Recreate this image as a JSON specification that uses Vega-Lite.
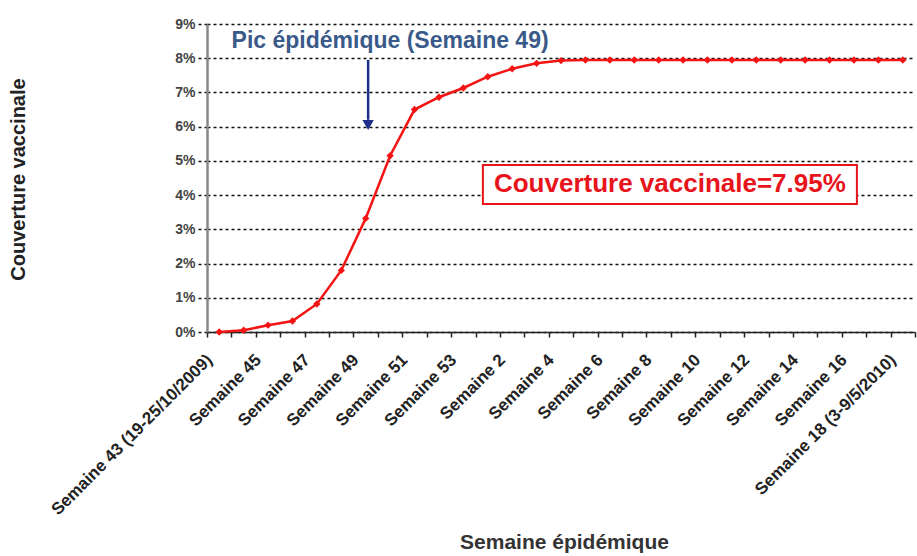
{
  "$schema": "https://vega.github.io/schema/vega-lite/v6.json",
  "width": 708,
  "height": 308,
  "autosize": "none",
  "padding": {"left": 207, "top": 24, "right": 2, "bottom": 224},
  "background": "white",
  "config": {"view": {"stroke": null}, "font": "Liberation Sans"},
  "datasets": {
    "coverage": [
      {"semaine": "Semaine 43 (19-25/10/2009)", "couverture": 0.0},
      {"semaine": "Semaine 44", "couverture": 0.0005},
      {"semaine": "Semaine 45", "couverture": 0.002},
      {"semaine": "Semaine 46", "couverture": 0.0032},
      {"semaine": "Semaine 47", "couverture": 0.0082},
      {"semaine": "Semaine 48", "couverture": 0.018},
      {"semaine": "Semaine 49", "couverture": 0.0332},
      {"semaine": "Semaine 50", "couverture": 0.0515},
      {"semaine": "Semaine 51", "couverture": 0.065},
      {"semaine": "Semaine 52", "couverture": 0.0686},
      {"semaine": "Semaine 53", "couverture": 0.0713},
      {"semaine": "Semaine 1", "couverture": 0.0746},
      {"semaine": "Semaine 2", "couverture": 0.0769},
      {"semaine": "Semaine 3", "couverture": 0.0785},
      {"semaine": "Semaine 4", "couverture": 0.0793},
      {"semaine": "Semaine 5", "couverture": 0.0795},
      {"semaine": "Semaine 6", "couverture": 0.0795},
      {"semaine": "Semaine 7", "couverture": 0.0795},
      {"semaine": "Semaine 8", "couverture": 0.0795},
      {"semaine": "Semaine 9", "couverture": 0.0795},
      {"semaine": "Semaine 10", "couverture": 0.0795},
      {"semaine": "Semaine 11", "couverture": 0.0795},
      {"semaine": "Semaine 12", "couverture": 0.0795},
      {"semaine": "Semaine 13", "couverture": 0.0795},
      {"semaine": "Semaine 14", "couverture": 0.0795},
      {"semaine": "Semaine 15", "couverture": 0.0795},
      {"semaine": "Semaine 16", "couverture": 0.0795},
      {"semaine": "Semaine 17", "couverture": 0.0795},
      {"semaine": "Semaine 18 (3-9/5/2010)", "couverture": 0.0795}
    ]
  },
  "layer": [
    {
      "data": {"name": "coverage"},
      "mark": {
        "type": "line",
        "color": "#F41414",
        "strokeWidth": 2.5,
        "point": {"shape": "diamond", "size": 55, "filled": true, "color": "#F41414"}
      },
      "encoding": {
        "x": {
          "field": "semaine",
          "type": "nominal",
          "sort": null,
          "scale": {"type": "band", "paddingInner": 0, "paddingOuter": 0},
          "axis": {
            "title": "Semaine épidémique",
            "titleFontSize": 21,
            "titleFontWeight": "bold",
            "titleColor": "#333333",
            "titleX": 357,
            "titleY": 216,
            "titleAlign": "center",
            "titleBaseline": "alphabetic",
            "labelAngle": -45,
            "labelAlign": "right",
            "labelBaseline": "middle",
            "labelFontSize": 17,
            "labelFontWeight": "bold",
            "labelColor": "#222222",
            "labelPadding": 20,
            "labelOffset": -10,
            "labelLimit": 400,
            "labelOverlap": false,
            "labelExpr": "test(regexp('^Semaine (43|45|47|49|51|53|2|4|6|8|10|12|14|16|18)( |$)'), datum.value) ? datum.label : ''",
            "tickBand": "extent",
            "tickSize": 5,
            "tickColor": "#222222",
            "tickWidth": 1.5,
            "domainColor": "#222222",
            "domainWidth": 1.5,
            "grid": false
          }
        },
        "y": {
          "field": "couverture",
          "type": "quantitative",
          "scale": {"domain": [0, 0.09], "nice": false},
          "axis": {
            "values": [0, 0.01, 0.02, 0.03, 0.04, 0.05, 0.06, 0.07, 0.08, 0.09],
            "format": ".0%",
            "labelOverlap": false,
            "grid": true,
            "gridDash": [3, 3],
            "gridColor": "#111111",
            "gridWidth": 1.3,
            "gridOpacity": 1,
            "domainColor": "#888888",
            "domainWidth": 2.5,
            "tickSize": 10,
            "tickDash": [3, 3],
            "tickColor": "#111111",
            "tickWidth": 1.3,
            "labelFontSize": 14,
            "labelFontWeight": "bold",
            "labelColor": "#444444",
            "labelPadding": 2,
            "title": "Couverture vaccinale",
            "titleFontSize": 20,
            "titleFontWeight": "bold",
            "titleColor": "#222222",
            "titleAngle": -90,
            "titleX": -189,
            "titleY": 155,
            "titleAlign": "center",
            "titleBaseline": "middle"
          }
        }
      }
    },
    {
      "data": {"values": [{"note": "annotation"}]},
      "layer": [
        {
          "mark": {"type": "rule", "color": "#1F2E8A", "strokeWidth": 2.5},
          "encoding": {
            "x": {"datum": 6.6, "type": "quantitative", "scale": {"domain": [0, 29], "nice": false}, "axis": null},
            "y": {"datum": 0.0795, "type": "quantitative", "scale": {"domain": [0, 0.09], "nice": false}, "axis": null},
            "y2": {"datum": 0.062}
          }
        },
        {
          "mark": {"type": "point", "shape": "triangle-down", "size": 130, "filled": true, "color": "#1F2E8A", "opacity": 1},
          "encoding": {
            "x": {"datum": 6.6, "type": "quantitative"},
            "y": {"datum": 0.0605, "type": "quantitative"}
          }
        },
        {
          "mark": {"type": "text", "text": "Pic épidémique (Semaine 49)", "fontSize": 23, "fontWeight": "bold", "color": "#3A5A8A", "align": "center", "baseline": "alphabetic"},
          "encoding": {
            "x": {"datum": 7.5, "type": "quantitative"},
            "y": {"datum": 0.083, "type": "quantitative"}
          }
        },
        {
          "mark": {"type": "rect", "fill": "white", "stroke": "#E8141B", "strokeWidth": 2},
          "encoding": {
            "x": {"datum": 11.3, "type": "quantitative"},
            "x2": {"datum": 26.62},
            "y": {"datum": 0.0488, "type": "quantitative"},
            "y2": {"datum": 0.0374}
          }
        },
        {
          "mark": {"type": "text", "text": "Couverture vaccinale=7.95%", "fontSize": 26, "fontWeight": "bold", "color": "#E8141B", "align": "center", "baseline": "middle"},
          "encoding": {
            "x": {"datum": 18.96, "type": "quantitative"},
            "y": {"datum": 0.0432, "type": "quantitative"}
          }
        }
      ]
    }
  ],
  "resolve": {
    "scale": {"x": "independent", "y": "independent"},
    "axis": {"x": "independent", "y": "independent"}
  }
}
